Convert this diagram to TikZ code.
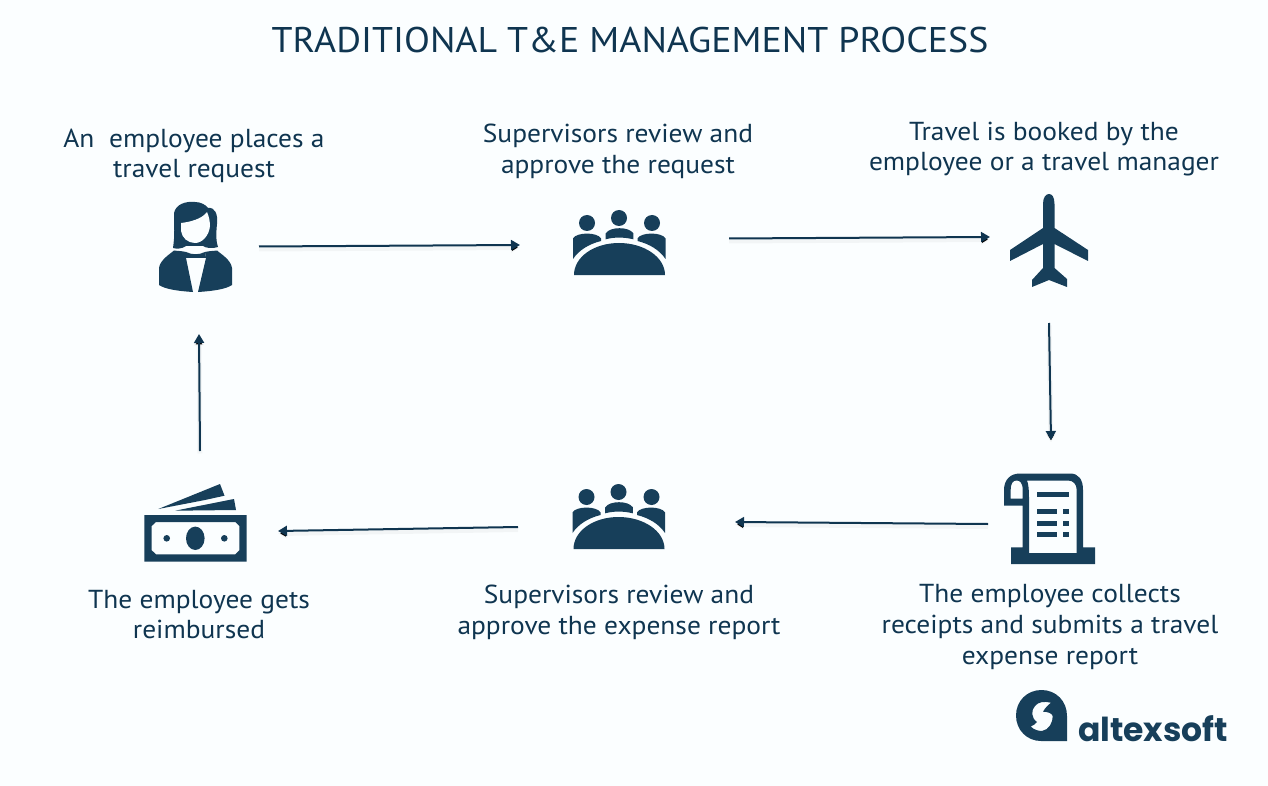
\documentclass[tikz,border=0pt]{standalone}
\usepackage{fontspec}
\setmainfont[FakeStretch=1.055]{PT Sans}
\newfontfamily\ttlfont[FakeStretch=1.06]{PT Sans}
\newfontfamily\logofont{Poppins}
\usetikzlibrary{arrows.meta}
\definecolor{ink}{HTML}{173F5A}
\definecolor{txt}{HTML}{0F3550}
\definecolor{bgc}{HTML}{FBFEFF}
\tikzset{
 lbl/.style={align=center,text=txt,font=\fontsize{26}{30.7}\selectfont,inner sep=0pt},
 ttl/.style={text=txt,font=\ttlfont\fontsize{35.7}{44}\selectfont,inner sep=0pt},
 flow/.style={draw=txt,line width=2pt,-{Triangle[length=9pt,width=10pt]},
   preaction={draw=black,draw opacity=.035,line width=5pt,transform canvas={yshift=-2.5pt}}},
 ic/.style={fill=ink,draw=none}
}
\newcommand{\meeting}[2]{%
 \begin{scope}[shift={(#1,#2)}]
  \fill[ic] (-45,31) .. controls (-45,13) and (-25,-1) .. (0,-1) .. controls (25,-1) and (46,13) .. (46,31) -- cycle;
  \fill[ic] (-32,-21) circle (8);
  \fill[ic] (0,-26) circle (8);
  \fill[ic] (33,-21) circle (8);
  \fill[ic] (-46,15) -- (-46,-5.7) .. controls (-42,-12) and (-22,-12) .. (-18,-5.7) -- (-18,-3) .. controls (-30,0) and (-40,6) .. (-46,15) -- cycle;
  \fill[ic] (46.5,15) -- (46.5,-5.7) .. controls (42.5,-12) and (22.5,-12) .. (18.5,-5.7) -- (18.5,-3) .. controls (30.5,0) and (40.5,6) .. (46.5,15) -- cycle;
  \fill[ic] (-13.3,-4.7) -- (-13.3,-10.7) .. controls (-9,-17.5) and (10,-17.5) .. (14.3,-10.7) -- (14.3,-4.7) .. controls (5,-7) and (-5,-7) .. (-13.3,-4.7) -- cycle;
 \end{scope}}
\begin{document}
\begin{tikzpicture}[x=1pt,y=-1pt]
\path[fill=bgc] (0,0) rectangle (1268,786);
\useasboundingbox (0,0) rectangle (1268,786);

\node[ttl] (title) at (630,40) {TRADITIONAL T\&E MANAGEMENT PROCESS};

\node[lbl] (t1) at (194,156) {An\ \ employee places a\\travel request};
\node[lbl] (t2) at (618,151) {Supervisors review and\\approve the request};
\node[lbl] (t3) at (1044,149) {Travel is booked by the\\employee or a travel manager};
\node[lbl] (t4) at (1050,627) {The employee collects\\receipts and submits a travel\\expense report};
\node[lbl] (t5) at (619,612) {Supervisors review and\\approve the expense report};
\node[lbl] (t6) at (199,614.5) {The employee gets\\reimbursed};

% woman
\begin{scope}
 \fill[ic] (173,248) .. controls (175,235) and (174,225) .. (174,213) .. controls (176,204) and (186,201) .. (195,202) .. controls (201,202) and (206,205) .. (208,208) .. controls (215,207) and (218,214) .. (217,224) .. controls (216,233) and (216,242) .. (218,247) .. controls (212,249) and (206,248) .. (203,246) -- (186,246) .. controls (182,249) and (176,249) .. (173,248) -- cycle;
 \fill[bgc] (181,223) .. controls (190,222) and (202,219) .. (207,212) .. controls (209,216) and (210,222) .. (210,226) .. controls (209,236) and (202,243) .. (195,243) .. controls (188,243) and (182,238) .. (181,231) -- cycle;
 \fill[ic] (159,285) -- (159,268) .. controls (160,260) and (170,254) .. (174,250.5) .. controls (178,251) and (182,251) .. (186,252) -- (186,258) -- (193,292) .. controls (177,291) and (165,289) .. (159,285) -- cycle;
 \fill[ic] (232,285) -- (232,268) .. controls (231,260) and (221,254) .. (217,250.5) .. controls (213,251) and (209,251) .. (205,252) -- (206,258) -- (198,292) .. controls (214,291) and (226,289) .. (232,285) -- cycle;
 \fill[ic] (186,252) .. controls (192,255) and (199,255) .. (205,252) -- (206,258) -- (186,258) -- cycle;
\end{scope}

\meeting{619}{244}
\meeting{618.5}{518}

% plane
\fill[ic] (1043,228) -- (1043,204) .. controls (1043,197) and (1046,194) .. (1049,194) .. controls (1052,194) and (1054.5,197) .. (1054.5,204) -- (1054.5,228) -- (1088,250) -- (1088,261) -- (1054.5,244) -- (1054.5,268) -- (1067,279) -- (1067,287) -- (1049,280) -- (1032,287) -- (1032,280) -- (1043,268) -- (1043,244) -- (1010,261) -- (1010,250) -- cycle;

% document
\fill[ic,even odd rule] (1004,505.7) -- (1004,490) .. controls (1004,480) and (1010,473.5) .. (1020,473.5) -- (1070,473.5) .. controls (1079,473.5) and (1083,480) .. (1083,490) -- (1083,547.3) -- (1095,547.3) -- (1095,564) -- (1011,564) -- (1011,547.3) -- (1022.7,547.3) -- (1022.7,505.7) -- cycle
 (1010.7,498.5) -- (1022.7,498.5) -- (1022.7,490) .. controls (1022.7,483) and (1020,480.5) .. (1016.7,480.5) .. controls (1013,480.5) and (1010.7,483) .. (1010.7,490) -- cycle
 (1027,480.5) .. controls (1028.5,484) and (1029,490) .. (1029,499) -- (1029,553) -- (1076.7,553) -- (1076.7,490) .. controls (1076.7,484) and (1073,480.5) .. (1068,480.5) -- cycle;
\fill[ic] (1037,491.7) rectangle (1068.7,496.7);
\fill[ic] (1037,509) rectangle (1056.7,514);
\fill[ic] (1062.7,509) rectangle (1068.7,514);
\fill[ic] (1037,520.7) rectangle (1056.7,525.7);
\fill[ic] (1062.7,520.7) rectangle (1068.7,525.7);
\fill[ic] (1037,532.3) rectangle (1056.7,537.3);
\fill[ic] (1062.7,532.3) rectangle (1068.7,537.3);

% money
\fill[ic,even odd rule] (144.3,515) rectangle (246.7,561.7)
 (156,522) -- (235.3,522) -- (239.3,526) -- (239.3,550.3) -- (235.3,554.3) -- (156,554.3) -- (151.7,550.3) -- (151.7,526) -- cycle;
\fill[ic] (195.3,538.3) ellipse (9.3 and 11.7);
\fill[ic] (166.7,538.3) circle (3.3);
\fill[ic] (224.3,538.3) circle (3.3);
\fill[ic] (158.3,509) -- (220,484) -- (224.5,495.7) -- (205,500) -- cycle;
\fill[ic] (175,510.7) -- (234,499) -- (236,510) -- cycle;

% logo
\fill[ic,even odd rule] (1041,741) .. controls (1027,741) and (1016,730) .. (1016,715.5) .. controls (1016,701) and (1027,690) .. (1041.5,690) .. controls (1056,690) and (1067,701) .. (1067,716) -- (1067,741) -- cycle
 (1051,702.7) .. controls (1044,701) and (1038,702) .. (1035,706) .. controls (1031,710) and (1031,718) .. (1037,722) .. controls (1035,724) and (1033,726) .. (1030.7,726.5) .. controls (1034,730) and (1039,731) .. (1042,731) .. controls (1049,730) and (1053,722) .. (1052.7,716) .. controls (1052,713) and (1047,711.7) .. (1043,711.7) .. controls (1045,708) and (1048,705) .. (1051,702.7) -- cycle;
\node[inner sep=0pt,anchor=base,text=ink,font=\logofont\fontsize{33}{33}\selectfont\bfseries] (logo) at (1153,741.7) {altexsoft};

% connector anchors
\coordinate (a1s) at (259,246.5);
\coordinate (a1e) at (520,245);
\coordinate (a2s) at (729,238.5);
\coordinate (a2e) at (990,237);
\coordinate (a3s) at (1049,323);
\coordinate (a3e) at (1051,440);
\coordinate (a4s) at (988,524);
\coordinate (a4e) at (735,522);
\coordinate (a5s) at (518,527);
\coordinate (a5e) at (278,531);
\coordinate (a6s) at (200,451);
\coordinate (a6e) at (199,334);
\foreach \i in {1,...,6}{\draw[flow] (a\i s) -- (a\i e);}
\end{tikzpicture}
\end{document}
